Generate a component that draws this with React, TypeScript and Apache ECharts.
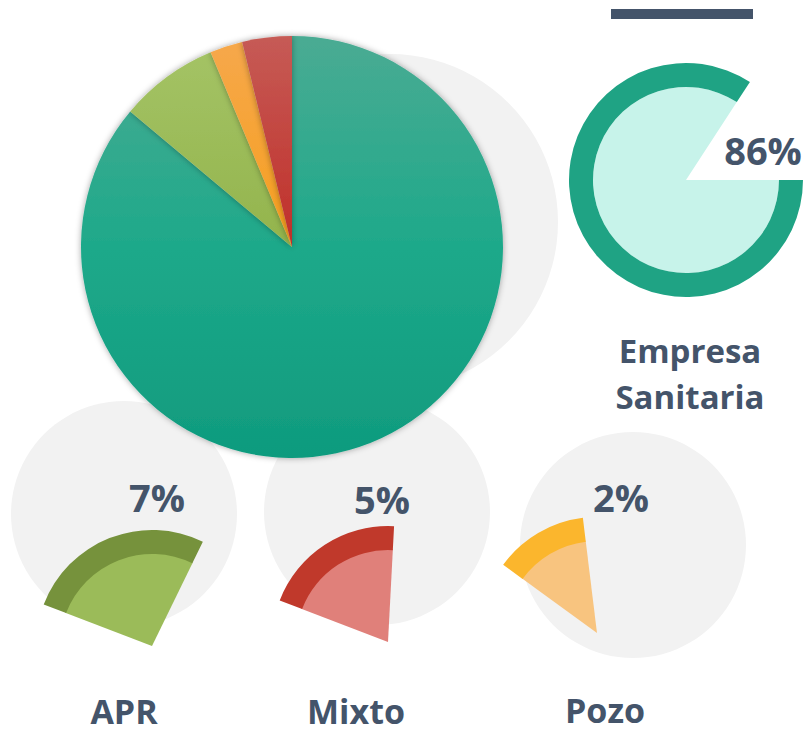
import React, { useEffect, useRef } from "react";
import * as echarts from "echarts";

// ---- data ----
const pieCategories = ["Empresa Sanitaria", "APR", "Pozo", "Mixto"];
const pieShares = [86.1, 7.6, 2.5, 3.8];

const ringShare = 84.2; // share of the ring that is filled
const ringLabel = "86%";
const ringTitle = "Empresa\nSanitaria";

const smallCategories = ["APR", "Mixto", "Pozo"];
const smallLabels = ["7%", "5%", "2%"];
const fanSpans = [95, 72, 47]; // degrees of each fan
const fanStarts = [159, 159, 144]; // start angle (degrees, counter-clockwise from east)

const TEXT = "#44546a";

const pieColors = [
  ["#4aab93", "#1ea98a", "#0f9b7e"],
  ["#a5c467", "#93b44c", "#8db24a"],
  ["#f6a84c", "#f69f1e", "#f69f1e"],
  ["#c65b56", "#c02f29", "#c02f29"],
];

const smallDark = ["#76923c", "#c0392b", "#fbb62d"];
const smallLight = ["#9bbb59", "#e0807a", "#f8c47f"];

const FONT = "'Open Sans', 'Noto Sans', sans-serif";

export default function App() {
  const ref = useRef<HTMLDivElement>(null);

  useEffect(() => {
    document.body.style.margin = "0";
    if (!ref.current) return;
    const chart = echarts.init(ref.current, null, { renderer: "svg" });

    const bgCircle = (center: number[], r: number) => ({
      type: "pie",
      silent: true,
      z: 1,
      center,
      radius: [0, r],
      label: { show: false },
      labelLine: { show: false },
      itemStyle: { color: "#f2f2f2" },
      data: [{ value: 1 }],
    });

    const partial = (
      center: number[],
      radius: number[],
      start: number,
      filled: number,
      total: number,
      color: string,
      z: number
    ) => ({
      type: "pie",
      silent: true,
      z,
      center,
      radius,
      startAngle: start,
      clockwise: true,
      label: { show: false },
      labelLine: { show: false },
      data: [
        { value: filled, itemStyle: { color } },
        { value: total - filled, itemStyle: { color: "transparent" } },
      ],
    });

    const smallCenters = [
      [124, 514],
      [377, 512],
      [633, 545],
    ];
    const fanApex = [
      [152, 646],
      [388, 642],
      [597, 633],
    ];

    const series: any[] = [];
    series.push(bgCircle([390, 222], 168));
    smallCenters.forEach((c) => series.push(bgCircle(c, 113)));

    series.push({
      type: "pie",
      silent: true,
      z: 5,
      center: [292, 247],
      radius: [0, 211],
      startAngle: 90,
      clockwise: true,
      label: { show: false },
      labelLine: { show: false },
      itemStyle: { shadowBlur: 6, shadowColor: "rgba(0,0,0,0.35)" },
      data: pieCategories.map((name, i) => ({
        name,
        value: pieShares[i],
        itemStyle: {
          color: new echarts.graphic.LinearGradient(
            0,
            36,
            0,
            458,
            [
              { offset: 0, color: pieColors[i][0] },
              { offset: 0.5, color: pieColors[i][1] },
              { offset: 1, color: pieColors[i][2] },
            ],
            true
          ),
        },
      })),
    });

    // ring
    series.push(partial([686, 180], [0, 93], 0, ringShare, 100, "#c7f3ea", 3));
    series.push(partial([686, 180], [93, 117], 0, ringShare, 100, "#1fa384", 3));

    // fans
    smallCategories.forEach((_, i) => {
      series.push(
        partial(fanApex[i], [0, 93], fanStarts[i], fanSpans[i], 360, smallLight[i], 3)
      );
      series.push(
        partial(fanApex[i], [92, 116], fanStarts[i], fanSpans[i], 360, smallDark[i], 3)
      );
    });

    const pctPos = [
      [157, 497],
      [382, 499],
      [621, 497],
    ];
    const namePos = [
      [124, 711],
      [356, 711],
      [605, 710],
    ];

    const txt = (x: number, y: number, text: string, size: number, extra: any = {}) => ({
      type: "text",
      x,
      y,
      z: 10,
      style: {
        text,
        fill: TEXT,
        font: `bold ${size}px ${FONT}`,
        align: "center",
        verticalAlign: "middle",
        ...extra,
      },
    });

    const graphic: any[] = [
      { type: "rect", shape: { x: 611, y: 9, width: 142, height: 10 }, style: { fill: TEXT }, z: 10 },
      txt(763, 150, ringLabel, 38),
      txt(690, 373, ringTitle, 33, { lineHeight: 46 }),
    ];
    smallLabels.forEach((l, i) => graphic.push(txt(pctPos[i][0], pctPos[i][1], l, 38)));
    smallCategories.forEach((n, i) =>
      graphic.push(txt(namePos[i][0], namePos[i][1], n, 34, { lineHeight: 30 }))
    );

    chart.setOption({
      animation: false,
      backgroundColor: "#ffffff",
      series,
      graphic,
    });

    return () => chart.dispose();
  }, []);

  return <div ref={ref} style={{ width: 808, height: 729 }} />;
}
